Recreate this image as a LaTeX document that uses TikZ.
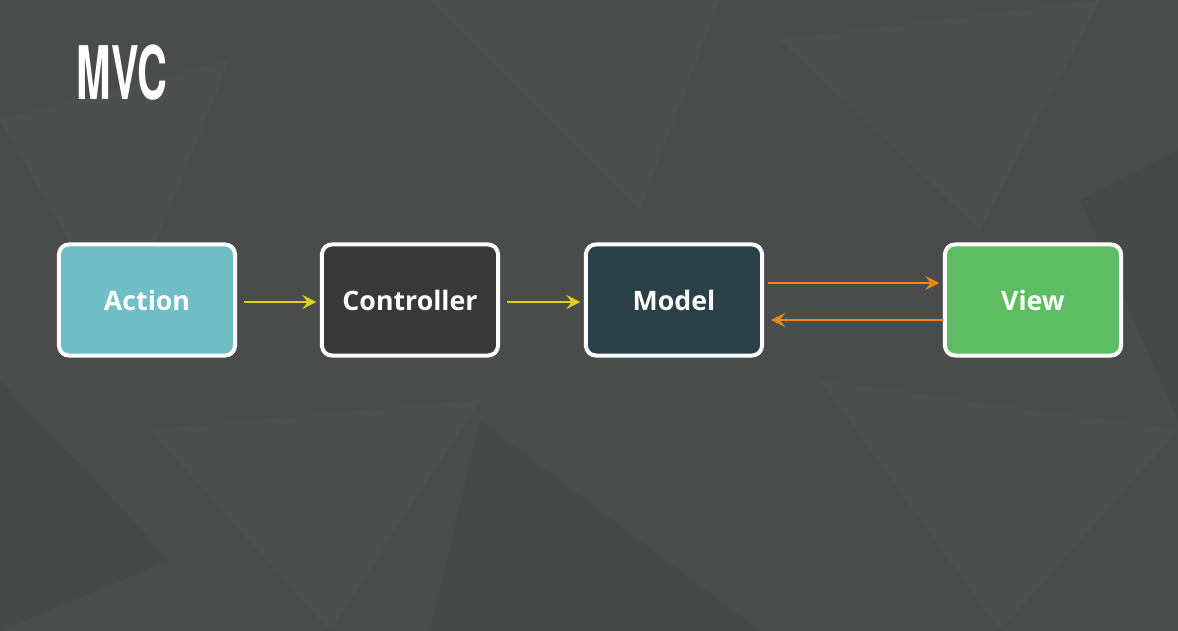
\documentclass[tikz,border=0pt]{standalone}
\usepackage{fontspec}
\setmainfont{Open Sans}
\newfontfamily\titlefont{TeX Gyre Heros}
\usepackage{tikz}
\usetikzlibrary{arrows,calc}

\definecolor{bgslate}{HTML}{4A4B4B}
\definecolor{actionfill}{HTML}{6FBEC5}
\definecolor{ctrlfill}{HTML}{383838}
\definecolor{modelfill}{HTML}{2A3F46}
\definecolor{viewfill}{HTML}{5DBD63}
\definecolor{flowyellow}{HTML}{DCCF1E}
\definecolor{floworange}{HTML}{E8891C}

\begin{document}
\begin{tikzpicture}[x=0.01cm,y=-0.01cm,>=stealth,
        box/.style={rectangle,rounded corners=0.1cm,minimum width=1.76cm,minimum height=1.11cm,
          line width=0.04cm,draw=white,text=white,font=\bfseries\fontsize{7.6}{9}\selectfont},
        flow/.style={->,line width=0.75pt,shorten >=1pt},
        facet/.style={fill=white,opacity=0.018}]
        % background and faint facets
        \fill[bgslate] (0,0) rectangle (1178,631);
        \fill[facet] (430,0) -- (720,0) -- (640,210) -- cycle;
        \fill[facet] (0,120) -- (230,60) -- (120,330) -- cycle;
        \fill[facet] (780,40) -- (1100,0) -- (980,230) -- cycle;
        \fill[facet] (150,430) -- (480,400) -- (330,631) -- cycle;
        \fill[facet] (820,380) -- (1178,430) -- (1000,631) -- cycle;
        \fill[black,opacity=0.03] (480,420) -- (760,631) -- (430,631) -- cycle;
        \fill[black,opacity=0.03] (0,380) -- (170,560) -- (0,631) -- cycle;
        \fill[black,opacity=0.03] (1080,200) -- (1178,150) -- (1178,420) -- cycle;
        % title
        \node[anchor=north west,inner sep=0,text=white] (title) at (76,44)
          {\scalebox{0.56}[1]{\titlefont\bfseries\fontsize{21}{21}\selectfont MVC}};
        % boxes
        \node[box,fill=actionfill] (action) at (147,300) {Action};
        \node[box,fill=ctrlfill]   (ctrl)   at (410,300) {Controller};
        \node[box,fill=modelfill]  (model)  at (674,300) {Model};
        \node[box,fill=viewfill]   (view)   at (1033,300) {View};
        % arrows
        \draw[flow,flowyellow] ([xshift=2pt,yshift=-0.02cm]action.east) -- ([yshift=-0.02cm]ctrl.west);
        \draw[flow,flowyellow] ([xshift=2pt,yshift=-0.02cm]ctrl.east) -- ([yshift=-0.02cm]model.west);
        \draw[flow,floworange] ([xshift=1pt,yshift=0.17cm]model.east) -- ([yshift=0.17cm]view.west);
        \draw[flow,floworange] ([yshift=-0.2cm]view.west) -- ([xshift=1pt,yshift=-0.2cm]model.east);
      \end{tikzpicture}
\end{document}
